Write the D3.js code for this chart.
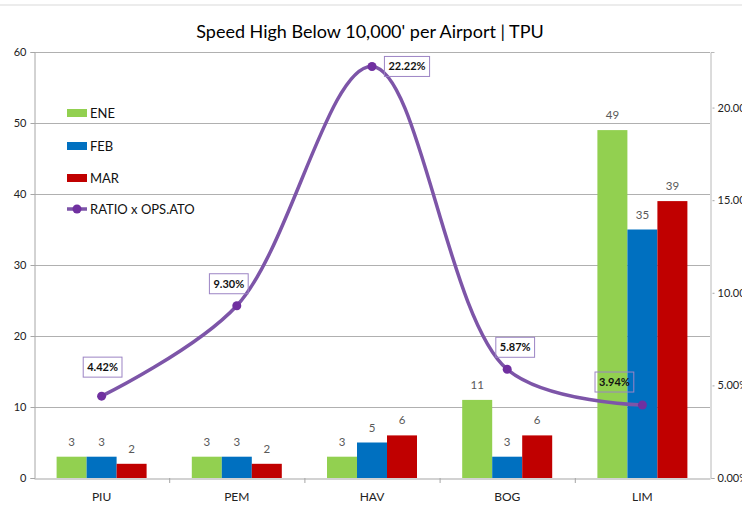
<!DOCTYPE html>
<html>
<head>
<meta charset="utf-8">
<script src="https://cdn.jsdelivr.net/npm/d3@7"></script>
<style>
  html, body { margin: 0; padding: 0; background: #ffffff; }
  svg { display: block; }
  text { font-family: Lato, "Open Sans", Roboto, sans-serif; }
</style>
</head>
<body>
<svg id="chart" width="742" height="513"></svg>
<script>
// Airports and monthly counts of "Speed High Below 10,000'" events
const categories = ["PIU", "PEM", "HAV", "BOG", "LIM"];
const eneValues = [3, 3, 3, 11, 49];
const febValues = [3, 3, 5, 3, 35];
const marValues = [2, 2, 6, 6, 39];
// Ratio of events per ATO operations
const ratioValues = [0.0442, 0.0930, 0.2222, 0.0587, 0.0394];
const leftTicks = [0, 10, 20, 30, 40, 50, 60];
const rightTicks = [0, 0.05, 0.10, 0.15, 0.20];
const seriesNames = ["ENE", "FEB", "MAR"];
const lineName = "RATIO x OPS.ATO";

// Placement of each ratio label box relative to its point (dx, dy)
const ratioLabelOffsets = [[1, -29], [-8, -22], [35, 0], [8, -22], [-28, -23]];

const FONT = "Lato, 'Open Sans', Roboto, sans-serif";
const colors = { ENE: "#92d050", FEB: "#0070c0", MAR: "#c00000" };
const lineColor = "#7d55a8";
const markerColor = "#7030a0";

const svg = d3.select("#chart");
const plot = { left: 34, right: 710, top: 52, bottom: 478 };

// chart frame edge
svg.append("line")
  .attr("x1", 0).attr("x2", 742).attr("y1", 5).attr("y2", 5)
  .attr("stroke", "#d9d9d9").attr("stroke-width", 1);

// Title
svg.append("text")
  .attr("x", 370).attr("y", 38)
  .attr("text-anchor", "middle")
  .attr("font-size", 18)
  .attr("fill", "#000")
  .text("Speed High Below 10,000' per Airport | TPU");

const x0 = d3.scaleBand().domain(categories).range([plot.left, plot.right]).padding(0);
const groupWidth = 90;
const x1 = d3.scaleBand().domain(seriesNames).range([0, groupWidth]).padding(0);
const yLeft = d3.scaleLinear().domain([0, 60]).range([plot.bottom, plot.top]);
const yRight = d3.scaleLinear().domain([0, 0.23]).range([plot.bottom, plot.top]);

// Horizontal gridlines
svg.append("g").selectAll("line")
  .data(leftTicks.filter(d => d > 0))
  .join("line")
  .attr("x1", plot.left).attr("x2", plot.right)
  .attr("y1", d => yLeft(d) + 0.5).attr("y2", d => yLeft(d) + 0.5)
  .attr("stroke", "#b0b0b0").attr("stroke-width", 1.2);

// Left axis
const leftAxis = svg.append("g")
  .attr("transform", `translate(${plot.left + 0.5},0)`)
  .call(d3.axisLeft(yLeft).tickValues(leftTicks).tickSize(4).tickPadding(4).tickFormat(d3.format("d")));
leftAxis.select(".domain").attr("stroke", "#a6a6a6");
leftAxis.selectAll(".tick line").attr("stroke", "#a6a6a6");
leftAxis.selectAll("text").attr("font-size", 11).attr("fill", "#222").style("font-family", FONT);

// Right axis
const rightAxis = svg.append("g")
  .attr("transform", `translate(${plot.right + 0.5},0)`)
  .call(d3.axisRight(yRight).tickValues(rightTicks).tickSize(4).tickPadding(3).tickFormat(d3.format(".2%")));
rightAxis.select(".domain").attr("stroke", "#b8b8b8");
rightAxis.selectAll(".tick line").attr("stroke", "#a6a6a6").attr("x1", 2);
rightAxis.selectAll("text").attr("font-size", 11).attr("fill", "#222").style("font-family", FONT);

// Bottom axis
const bottomAxis = svg.append("g")
  .attr("transform", `translate(0,${plot.bottom + 0.5})`)
  .call(d3.axisBottom(x0).tickSize(0).tickPadding(14));
bottomAxis.select(".domain").attr("stroke", "#a6a6a6").attr("stroke-width", 1.2);
bottomAxis.selectAll("text").attr("font-size", 12).attr("fill", "#222").style("font-family", FONT);
// category separators
svg.append("g").selectAll("line")
  .data(categories.slice(1))
  .join("line")
  .attr("x1", d => x0(d) + 0.5).attr("x2", d => x0(d) + 0.5)
  .attr("y1", plot.bottom).attr("y2", plot.bottom + 5)
  .attr("stroke", "#a6a6a6");

// Bars
const barRows = categories.map((c, i) => ({
  cat: c,
  vals: [
    { key: "ENE", v: eneValues[i] },
    { key: "FEB", v: febValues[i] },
    { key: "MAR", v: marValues[i] }
  ]
}));

const groups = svg.append("g").selectAll("g")
  .data(barRows)
  .join("g")
  .attr("transform", d => `translate(${x0(d.cat) + (x0.bandwidth() - groupWidth) / 2},0)`);

groups.selectAll("rect")
  .data(d => d.vals)
  .join("rect")
  .attr("x", d => x1(d.key))
  .attr("width", x1.bandwidth())
  .attr("y", d => yLeft(d.v))
  .attr("height", d => yLeft(0) - yLeft(d.v))
  .attr("fill", d => colors[d.key]);

groups.selectAll("text")
  .data(d => d.vals)
  .join("text")
  .attr("x", d => x1(d.key) + x1.bandwidth() / 2)
  .attr("y", d => yLeft(d.v) - 11)
  .attr("text-anchor", "middle")
  .attr("font-size", 11.5)
  .attr("fill", "#595959")
  .text(d => d.v);

// Ratio line
const pts = categories.map((c, i) => ({ cat: c, v: ratioValues[i], off: ratioLabelOffsets[i] }));
const line = d3.line()
  .x(d => x0(d.cat) + x0.bandwidth() / 2)
  .y(d => yRight(d.v))
  .curve(d3.curveCatmullRom.alpha(0.5));

svg.append("path")
  .datum(pts)
  .attr("d", line)
  .attr("fill", "none")
  .attr("stroke", lineColor)
  .attr("stroke-width", 3.5)
  .attr("stroke-linecap", "round");

svg.append("g").selectAll("circle")
  .data(pts)
  .join("circle")
  .attr("cx", d => x0(d.cat) + x0.bandwidth() / 2)
  .attr("cy", d => yRight(d.v))
  .attr("r", 4.5)
  .attr("fill", markerColor);

// Ratio labels in outlined boxes
const fmtPct = d3.format(".2%");
const lbl = svg.append("g").selectAll("g")
  .data(pts)
  .join("g")
  .attr("transform", d => `translate(${x0(d.cat) + x0.bandwidth() / 2 + d.off[0]},${yRight(d.v) + d.off[1]})`);
lbl.append("text")
  .attr("text-anchor", "middle")
  .attr("dy", "0.35em")
  .attr("font-size", 11)
  .attr("font-weight", "bold")
  .attr("fill", "#111")
  .text(d => fmtPct(d.v));
lbl.each(function () {
  const g = d3.select(this);
  const bb = g.select("text").node().getBBox();
  g.insert("rect", "text")
    .attr("x", bb.x - 4).attr("y", -10)
    .attr("width", bb.width + 8).attr("height", 20)
    .attr("fill", "none")
    .attr("stroke", "#9c84c4")
    .attr("stroke-width", 1);
});

// Legend
const legend = svg.append("g").attr("transform", "translate(67,0)");
const legendRows = [
  { name: "ENE", y: 113 },
  { name: "FEB", y: 146 },
  { name: "MAR", y: 178 }
];
legendRows.forEach(r => {
  legend.append("rect")
    .attr("x", 0).attr("y", r.y - 4).attr("width", 20).attr("height", 8)
    .attr("fill", colors[r.name]);
  legend.append("text")
    .attr("x", 23).attr("y", r.y).attr("dy", "0.35em")
    .attr("font-size", 13).attr("fill", "#111")
    .text(r.name);
});
legend.append("line")
  .attr("x1", 0).attr("x2", 20).attr("y1", 209).attr("y2", 209)
  .attr("stroke", lineColor).attr("stroke-width", 3.5);
legend.append("circle")
  .attr("cx", 10).attr("cy", 209).attr("r", 4.5).attr("fill", markerColor);
legend.append("text")
  .attr("x", 23).attr("y", 209).attr("dy", "0.35em")
  .attr("font-size", 13).attr("fill", "#111")
  .text(lineName);
</script>
</body>
</html>
